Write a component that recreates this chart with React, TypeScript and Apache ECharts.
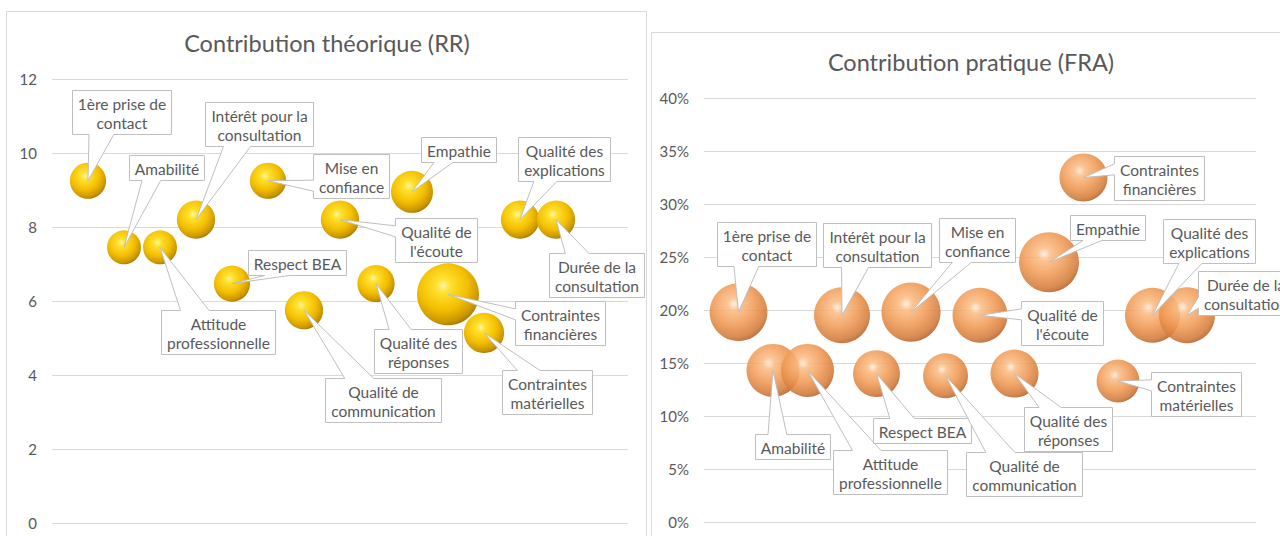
import React, { useEffect, useRef } from "react";
import * as echarts from "echarts";

// ---------- DATA ----------
const categories = [
  "1ère prise de\ncontact",
  "Amabilité",
  "Attitude\nprofessionnelle",
  "Intérêt pour la\nconsultation",
  "Respect BEA",
  "Mise en\nconfiance",
  "Qualité de\ncommunication",
  "Qualité de\nl'écoute",
  "Qualité des\nréponses",
  "Empathie",
  "Contraintes\nfinancières",
  "Contraintes\nmatérielles",
  "Qualité des\nexplications",
  "Durée de la\nconsultation",
];
const xPositions = [1, 2, 3, 4, 5, 6, 7, 8, 9, 10, 11, 12, 13, 14];

// Contribution théorique (RR)
const rrValues = [9.25, 7.45, 7.45, 8.2, 6.47, 9.25, 5.75, 8.2, 6.47, 8.95, 6.18, 5.14, 8.2, 8.2];
const rrBubble = [3.4, 3.0, 3.0, 3.8, 3.4, 3.4, 3.8, 3.8, 3.6, 4.6, 10, 4.2, 3.8, 3.8];
const rrTicks = { min: 0, max: 12, interval: 2 };

// Contribution pratique (FRA)
const fraValues = [0.198, 0.143, 0.143, 0.195, 0.14, 0.198, 0.138, 0.195, 0.14, 0.245, 0.325, 0.133, 0.195, 0.195];
const fraBubble = [9.3, 7.8, 7.8, 8.7, 6.1, 9.7, 5.6, 8.4, 6.4, 10, 6.4, 5.1, 8.4, 8.7];
const fraTicks = { min: 0, max: 0.4, interval: 0.05 };

const titles = ["Contribution théorique (RR)", "Contribution pratique (FRA)"];

// ---------- LAYOUT (callout box centre offsets from bubble centre, px) ----------
const rrLabelOffsets = [
  [33, -69], [42, -80], [58, 85], [63, -96], [65, -21], [83, -5], [79, 90],
  [96, 20], [42, 67], [46, -42], [112, 29], [63, 59], [44, -61], [40, 55],
];
const fraLabelOffsets = [
  [28, -68], [19, 76], [82, 102], [35, -70], [45, 57], [66, -72], [78, 98],
  [82, 8], [53, 55], [58, -35], [75, 0], [78, 13], [56, -74], [58, -22],
];

const FONT_FAMILY = "Lato, 'Open Sans', sans-serif";
const TEXT = "#595959";
const GRID = "#d9d9d9";
const LABEL_SIZE = 15.5;
const LINE_H = 19;
const PAD_X = 5.5;
const PAD_Y = 3;

let measureCtx: CanvasRenderingContext2D | null = null;
function measure(s: string): number {
  if (!measureCtx) {
    measureCtx = document.createElement("canvas").getContext("2d");
  }
  measureCtx!.font = `${LABEL_SIZE}px ${FONT_FAMILY}`;
  return measureCtx!.measureText(s).width;
}

function calloutSeries(values: number[], offsets: number[][], idx: number) {
  return {
    type: "custom",
    xAxisIndex: idx,
    yAxisIndex: idx,
    z: 10,
    silent: true,
    clip: false,
    data: xPositions.map((x, i) => [x, values[i], i]),
    renderItem: (params: any, api: any) => {
      const i = api.value(2);
      const p = api.coord([api.value(0), api.value(1)]);
      const tx = p[0];
      const ty = p[1];
      const text = categories[i];
      const lines = text.split("\n");
      const tw = Math.max(...lines.map((l) => measure(l)));
      const w = Math.round(tw + 2 * PAD_X);
      const h = Math.round(lines.length * LINE_H + 2 * PAD_Y);
      const cx = tx + offsets[i][0];
      const cy = ty + offsets[i][1];
      const x0 = Math.round(cx - w / 2) + 0.5;
      const y0 = Math.round(cy - h / 2) + 0.5;
      const x1 = x0 + w;
      const y1 = y0 + h;
      const bcx = (x0 + x1) / 2;
      const bcy = (y0 + y1) / 2;
      const dxp = tx - bcx;
      const dyp = ty - bcy;
      const vertical = Math.abs(dyp) / h > Math.abs(dxp) / w;
      const a = dxp > 0 ? (7 * w) / 12 : (2 * w) / 12;
      const b = dxp > 0 ? (10 * w) / 12 : (5 * w) / 12;
      const c = dyp > 0 ? (7 * h) / 12 : (2 * h) / 12;
      const d = dyp > 0 ? (10 * h) / 12 : (5 * h) / 12;
      const pts: number[][] = [];
      pts.push([x0, y0]);
      if (vertical && dyp < 0) pts.push([x0 + a, y0], [tx, ty], [x0 + b, y0]);
      pts.push([x1, y0]);
      if (!vertical && dxp > 0) pts.push([x1, y0 + c], [tx, ty], [x1, y0 + d]);
      pts.push([x1, y1]);
      if (vertical && dyp > 0) pts.push([x0 + b, y1], [tx, ty], [x0 + a, y1]);
      pts.push([x0, y1]);
      if (!vertical && dxp < 0) pts.push([x0, y0 + d], [tx, ty], [x0, y0 + c]);
      return {
        type: "group",
        children: [
          {
            type: "polygon",
            shape: { points: pts },
            style: { fill: "#ffffff", stroke: "#bfbfbf", lineWidth: 1 },
          },
          {
            type: "text",
            style: {
              text,
              x: bcx,
              y: bcy + 0.5,
              align: "center",
              verticalAlign: "middle",
              fontSize: LABEL_SIZE,
              fontFamily: FONT_FAMILY,
              lineHeight: LINE_H,
              fill: TEXT,
            },
          },
        ],
      };
    },
  };
}

export default function App() {
  const ref = useRef<HTMLDivElement>(null);

  useEffect(() => {
    if (!ref.current) return;
    const chart = echarts.init(ref.current, undefined, { renderer: "svg" });

    const gold = new echarts.graphic.RadialGradient(0.42, 0.36, 0.72, [
      { offset: 0, color: "#fff6a6" },
      { offset: 0.16, color: "#ffe12e" },
      { offset: 0.55, color: "#f3be00" },
      { offset: 0.82, color: "#c99500" },
      { offset: 1, color: "#875f00" },
    ]);
    const peach = new echarts.graphic.RadialGradient(0.42, 0.36, 0.72, [
      { offset: 0, color: "#ffeedd" },
      { offset: 0.15, color: "#fbbd86" },
      { offset: 0.5, color: "#f09a55" },
      { offset: 0.8, color: "#d27a3a" },
      { offset: 1, color: "#9c4f1e" },
    ]);

    const rrMax = Math.max(...rrBubble);
    const fraMax = Math.max(...fraBubble);
    const RR_MAX_D = 62;
    const FRA_MAX_D = 60;

    const yLabel = {
      color: TEXT,
      fontSize: 15,
      fontFamily: FONT_FAMILY,
      margin: 15,
    };

    chart.setOption({
      animation: false,
      backgroundColor: "#ffffff",
      graphic: [
        {
          type: "rect",
          shape: { x: 6.5, y: 11.5, width: 640, height: 600 },
          style: { fill: "none", stroke: GRID, lineWidth: 1 },
          silent: true,
          z: -1,
        },
        {
          type: "rect",
          shape: { x: 651.5, y: 32.5, width: 640, height: 600 },
          style: { fill: "none", stroke: GRID, lineWidth: 1 },
          silent: true,
          z: -1,
        },
        {
          type: "text",
          x: 327,
          y: 43,
          style: {
            text: titles[0],
            align: "center",
            verticalAlign: "middle",
            fontSize: 23.5,
            fontFamily: FONT_FAMILY,
            fill: TEXT,
          },
        },
        {
          type: "text",
          x: 971,
          y: 62,
          style: {
            text: titles[1],
            align: "center",
            verticalAlign: "middle",
            fontSize: 23.5,
            fontFamily: FONT_FAMILY,
            fill: TEXT,
          },
        },
      ],
      grid: [
        { left: 52, top: 79, width: 576, height: 444 },
        { left: 704, top: 98, width: 552, height: 424 },
      ],
      xAxis: [
        { gridIndex: 0, type: "value", min: 0, max: 16, show: false },
        { gridIndex: 1, type: "value", min: 0, max: 16, show: false },
      ],
      yAxis: [
        {
          gridIndex: 0,
          type: "value",
          min: rrTicks.min,
          max: rrTicks.max,
          interval: rrTicks.interval,
          axisLine: { show: false },
          axisTick: { show: false },
          axisLabel: yLabel,
          splitLine: { lineStyle: { color: GRID, width: 1 } },
        },
        {
          gridIndex: 1,
          type: "value",
          min: fraTicks.min,
          max: fraTicks.max,
          interval: fraTicks.interval,
          axisLine: { show: false },
          axisTick: { show: false },
          axisLabel: {
            ...yLabel,
            formatter: (v: number) => `${Math.round(v * 100)}%`,
          },
          splitLine: { lineStyle: { color: GRID, width: 1 } },
        },
      ],
      series: [
        {
          type: "scatter",
          xAxisIndex: 0,
          yAxisIndex: 0,
          silent: true,
          data: xPositions.map((x, i) => [x, rrValues[i], rrBubble[i]]),
          symbolSize: (val: number[]) => RR_MAX_D * Math.sqrt(val[2] / rrMax),
          itemStyle: { color: gold, opacity: 1 },
          z: 2,
        },
        {
          type: "scatter",
          xAxisIndex: 1,
          yAxisIndex: 1,
          silent: true,
          data: xPositions.map((x, i) => [x, fraValues[i], fraBubble[i]]),
          symbolSize: (val: number[]) => FRA_MAX_D * Math.sqrt(val[2] / fraMax),
          itemStyle: { color: peach, opacity: 0.88 },
          z: 2,
        },
        calloutSeries(rrValues, rrLabelOffsets, 0),
        calloutSeries(fraValues, fraLabelOffsets, 1),
      ],
    });

    return () => chart.dispose();
  }, []);

  return (
    <div
      ref={ref}
      style={{ position: "fixed", left: 0, top: 0, width: 1280, height: 536 }}
    />
  );
}
